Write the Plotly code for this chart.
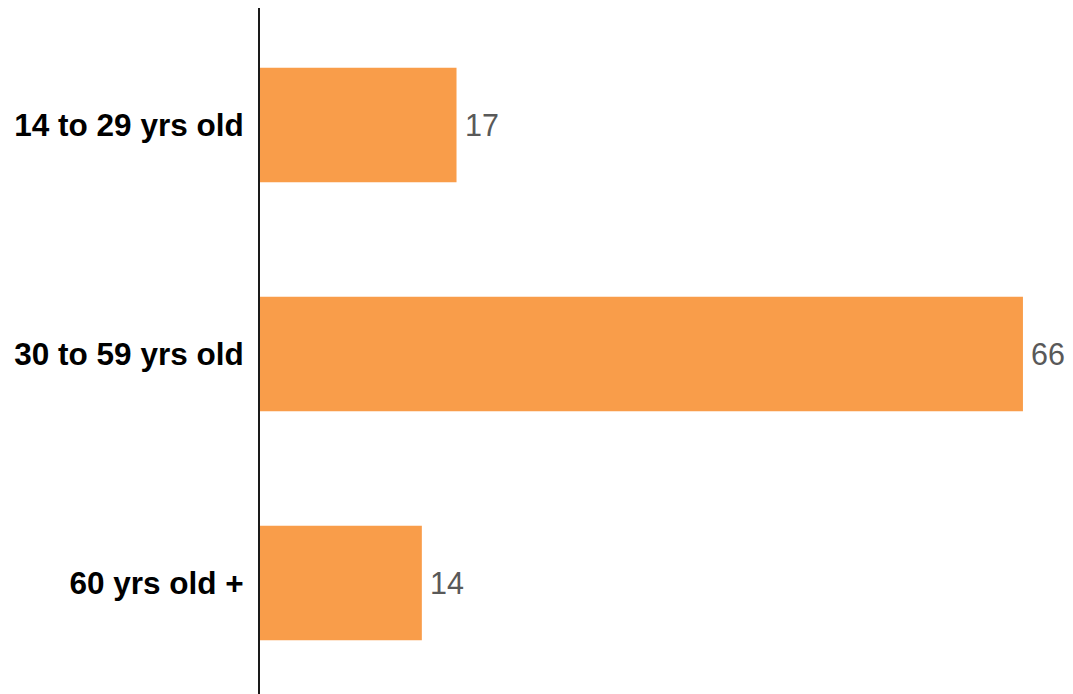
import plotly.graph_objects as go

categories = ["14 to 29 yrs old", "30 to 59 yrs old", "60 yrs old +"]
values = [17, 66, 14]

fig = go.Figure(go.Bar(
    x=values, y=categories, orientation="h",
    marker=dict(color="#F99D4A", line=dict(width=0)),
    width=0.5,
    cliponaxis=False,
    hoverinfo="skip",
))

for cat, v in zip(categories, values):
    fig.add_annotation(
        x=v, y=cat, text=str(v), showarrow=False,
        xanchor="left", yanchor="middle", xshift=6,
        font=dict(family="Liberation Sans, Arial", size=30.5, color="#595959"),
    )

fig.update_layout(
    width=1065, height=686,
    margin=dict(l=252, r=0, t=0, b=0),
    paper_bgcolor="white", plot_bgcolor="white",
    showlegend=False,
    font=dict(family="Liberation Sans, Arial", color="#000000"),
    xaxis=dict(range=[0, 70.33], showgrid=False, zeroline=False,
               showticklabels=False, showline=False, ticks=""),
    yaxis=dict(range=[2.485, -0.511], type="category",
               categoryorder="array", categoryarray=categories,
               showgrid=False, zeroline=False,
               showline=True, linecolor="#1a1a1a", linewidth=2,
               ticks="", ticklabelstandoff=8,
               tickfont=dict(family="Liberation Sans, Arial", size=31.5, color="#000000", weight="bold")),
)

fig.write_html("out.html")
